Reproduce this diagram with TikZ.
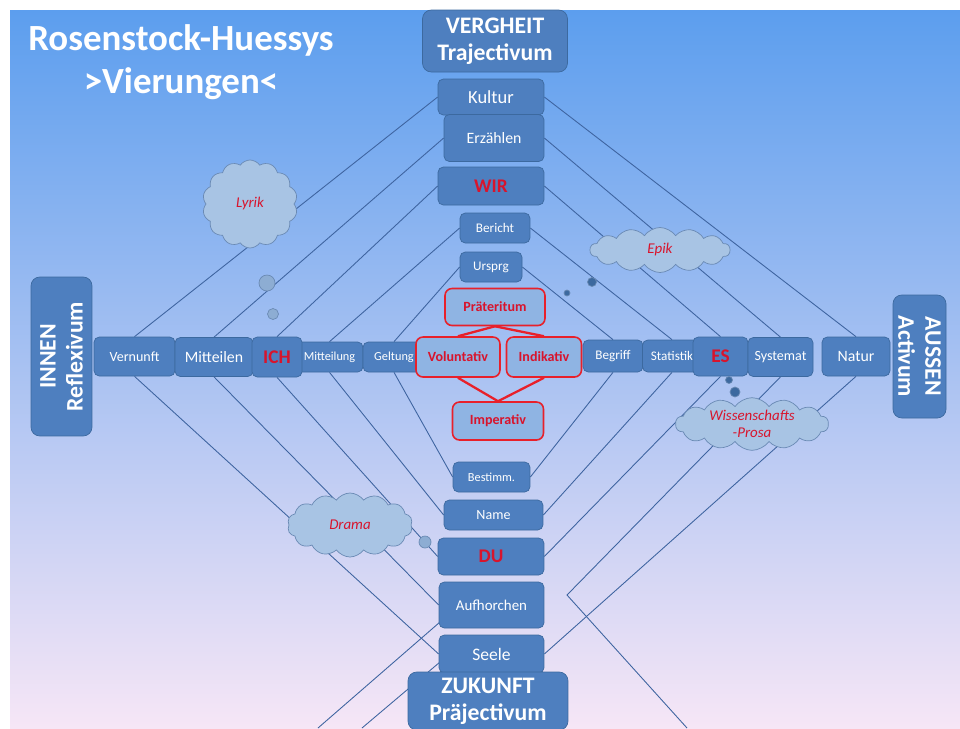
\documentclass[tikz,border=0pt]{standalone}
\usepackage{fontspec}
\setmainfont{Carlito}
\usetikzlibrary{shapes.symbols,backgrounds}

\definecolor{bgtop}{HTML}{5C9EEE}
\definecolor{bgmid}{HTML}{98C4F0}
\definecolor{bgbot}{HTML}{F6E6F6}
\definecolor{boxfill}{HTML}{4E7FBF}
\definecolor{boxedge}{HTML}{3C699F}
\definecolor{redfill}{HTML}{8FB4E3}
\definecolor{redline}{HTML}{E8202A}
\definecolor{redtext}{HTML}{D8142C}
\definecolor{cloudfill}{HTML}{A8C4E4}
\definecolor{cloudedge}{HTML}{6A8AB4}
\definecolor{linkcol}{HTML}{3E64A0}

\begin{document}
\begin{tikzpicture}[
    x=0.02cm, y=-0.02cm,
    every node/.style={font=\fontsize{8}{9.6}\selectfont},
    box/.style={draw=boxedge, fill=boxfill, rounded corners=3pt, text=white, align=center, inner sep=1pt},
    bigbox/.style={box, rounded corners=5pt, font=\fontsize{13.5}{15.4}\selectfont\bfseries},
    keybox/.style={box, text=redtext, font=\fontsize{11}{13}\selectfont\bfseries},
    modus/.style={draw=redline, line width=0.9pt, fill=redfill, rounded corners=4pt, text=redtext, inner sep=1pt, font=\fontsize{8}{9.6}\selectfont\bfseries},
    thought/.style={cloud, cloud puffs=14, cloud puff arc=110, cloud ignores aspect, draw=cloudedge, fill=cloudfill, text=redtext, align=center, inner sep=0pt, font=\fontsize{8.5}{10}\selectfont\itshape},
    dot/.style={circle, draw=cloudedge, fill=cloudfill!75!boxedge, inner sep=0pt},
    link/.style={draw=linkcol, line width=0.5pt},
    modlink/.style={draw=redline, line width=1.3pt}
]
\useasboundingbox (0,0) rectangle (960,728);
\clip (0,0) rectangle (960,728);
\begin{pgfonlayer}{background}
\fill[white] (0,0) rectangle (960,728);
\fill[top color=bgtop, middle color=bgmid, bottom color=bgbot] (10,10) rectangle (960,728);
\end{pgfonlayer}

% title
\node[text=white, align=center, font=\fontsize{21}{24.5}\selectfont\bfseries] (title) at (181,62) {Rosenstock-Huessys\\>Vierungen<};

% upper column
\node[bigbox, minimum width=2.9cm, minimum height=1.24cm] (verg) at (495,41) {VERGHEIT\\Trajectivum};
\node[box, minimum width=2.12cm, minimum height=0.72cm, font=\fontsize{10.5}{12}\selectfont] (kultur) at (491,97) {Kultur};
\node[box, minimum width=2.0cm, minimum height=0.94cm, font=\fontsize{9}{11}\selectfont] (erz) at (494,138) {Erzählen};
\node[keybox, minimum width=2.12cm, minimum height=0.76cm] (wir) at (491,186) {WIR};
\node[box, minimum width=1.4cm, minimum height=0.6cm, font=\fontsize{7.5}{9}\selectfont] (bericht) at (495,228) {Bericht};
\node[box, minimum width=1.24cm, minimum height=0.6cm, font=\fontsize{7.5}{9}\selectfont] (urspr) at (491,267) {Ursprg};

% horizontal row
\node[bigbox, rotate=90, minimum width=3.18cm, minimum height=1.22cm] (innen) at (61.5,356.5) {INNEN\\Reflexivum};
\node[box, minimum width=1.62cm, minimum height=0.78cm] (vernunft) at (134.5,356.5) {Vernunft};
\node[box, minimum width=1.56cm, minimum height=0.78cm, font=\fontsize{9}{11}\selectfont] (mitteilen) at (214,357) {Mitteilen};
\node[box, minimum width=1.34cm, minimum height=0.6cm, font=\fontsize{7}{8.4}\selectfont] (mitteilung) at (329.5,357) {Mitteilung};
\node[keybox, minimum width=1.0cm, minimum height=0.8cm] (ich) at (277,357) {ICH};
\node[box, minimum width=1.24cm, minimum height=0.6cm, font=\fontsize{7}{8.4}\selectfont] (geltung) at (394,357) {Geltung};
\node[box, minimum width=1.2cm, minimum height=0.64cm, font=\fontsize{7.5}{9}\selectfont] (begriff) at (613,356) {Begriff};
\node[box, minimum width=1.18cm, minimum height=0.64cm, font=\fontsize{7.5}{9}\selectfont] (statistik) at (672,356) {Statistik};
\node[keybox, minimum width=1.1cm, minimum height=0.78cm] (es) at (720.5,356.5) {ES};
\node[box, minimum width=1.3cm, minimum height=0.78cm] (systemat) at (780.5,357) {Systemat};
\node[box, minimum width=1.36cm, minimum height=0.78cm, font=\fontsize{9}{11}\selectfont] (natur) at (856,356.5) {Natur};
\node[bigbox, rotate=-90, minimum width=2.46cm, minimum height=1.06cm] (aussen) at (919.5,356.5) {AUSSEN\\Activum};

% modi
\node[modus, minimum width=2.0cm, minimum height=0.74cm] (prae) at (495,307) {Präteritum};
\node[modus, minimum width=1.68cm, minimum height=0.8cm] (volun) at (458,357) {Voluntativ};
\node[modus, minimum width=1.5cm, minimum height=0.8cm] (indik) at (544,357) {Indikativ};
\node[modus, minimum width=1.82cm, minimum height=0.76cm] (imper) at (498,421) {Imperativ};
\draw[modlink] (prae.south) -- (volun.north);
\draw[modlink] (prae.south) -- (indik.north);
\draw[modlink] (volun.south) -- (imper.north);
\draw[modlink] (indik.south) -- (imper.north);

% lower column
\node[box, minimum width=1.54cm, minimum height=0.6cm, font=\fontsize{7}{8.4}\selectfont] (bestimm) at (491.5,477) {Bestimm.};
\node[box, minimum width=1.98cm, minimum height=0.6cm] (name) at (493.5,515) {Name};
\node[keybox, minimum width=2.12cm, minimum height=0.74cm] (du) at (491,556.5) {DU};
\node[box, minimum width=2.1cm, minimum height=0.92cm, font=\fontsize{8.5}{10}\selectfont] (aufh) at (491.5,605) {Aufhorchen};
\node[box, minimum width=2.1cm, minimum height=0.76cm, font=\fontsize{10}{12}\selectfont] (seele) at (491.5,654) {Seele};
\node[bigbox, minimum width=3.2cm, minimum height=1.16cm] (zuk) at (488,701) {ZUKUNFT\\Präjectivum};

% clouds
\node[thought, minimum width=1.9cm, minimum height=1.76cm] (lyrik) at (250,204) {Lyrik};
\node[dot, minimum size=0.32cm] (lyrik1) at (267,283) {};
\node[dot, minimum size=0.22cm] (lyrik2) at (273,314) {};
\node[thought, minimum width=2.8cm, minimum height=0.9cm] (epik) at (660,250) {Epik};
\node[dot, minimum size=0.18cm, fill=boxedge] (epik1) at (592,282) {};
\node[dot, minimum size=0.12cm, fill=boxedge] (epik2) at (567,293) {};
\node[thought, minimum width=3.06cm, minimum height=0.96cm] (wiss) at (752,424) {Wissenschafts\\-Prosa};
\node[dot, minimum size=0.2cm, fill=boxedge] (wiss1) at (735,392) {};
\node[dot, minimum size=0.14cm, fill=boxedge] (wiss2) at (729,380) {};
\node[thought, minimum width=2.5cm, minimum height=1.28cm] (drama) at (350,525) {Drama};
\node[dot, minimum size=0.24cm] (drama1) at (425,542) {};

% lines behind everything
\coordinate (bendA) at (567,595);
\coordinate (endA) at (687,728);
\coordinate (strayC) at (318,728);
\coordinate (strayD) at (440,622);
\coordinate (strayE) at (362,728);
\coordinate (strayF) at (440,662);
\begin{pgfonlayer}{background}
\draw[link] (kultur.west) -- (vernunft.north);
\draw[link] (erz.west) -- (mitteilen.north);
\draw[link] (wir.west) -- (ich.north);
\draw[link] (bericht.west) -- (mitteilung.north);
\draw[link] (urspr.west) -- (geltung.north);
\draw[link] (kultur.east) -- (natur.north);
\draw[link] (erz.east) -- (systemat.north);
\draw[link] (wir.east) -- (es.north);
\draw[link] (bericht.east) -- (statistik.north);
\draw[link] (urspr.east) -- (begriff.north);
\draw[link] (vernunft.south) -- (seele.west);
\draw[link] (mitteilen.south) -- (aufh.west);
\draw[link] (ich.south) -- (du.west);
\draw[link] (mitteilung.south) -- (name.west);
\draw[link] (geltung.south) -- (bestimm.west);
\draw[link] (natur.south) -- (seele.east);
\draw[link] (systemat.south) -- (bendA) -- (endA);
\draw[link] (es.south) -- (du.east);
\draw[link] (statistik.south) -- (name.east);
\draw[link] (begriff.south) -- (bestimm.east);
\draw[link] (strayC) -- (strayD);
\draw[link] (strayE) -- (strayF);
\end{pgfonlayer}
\end{tikzpicture}
\end{document}
